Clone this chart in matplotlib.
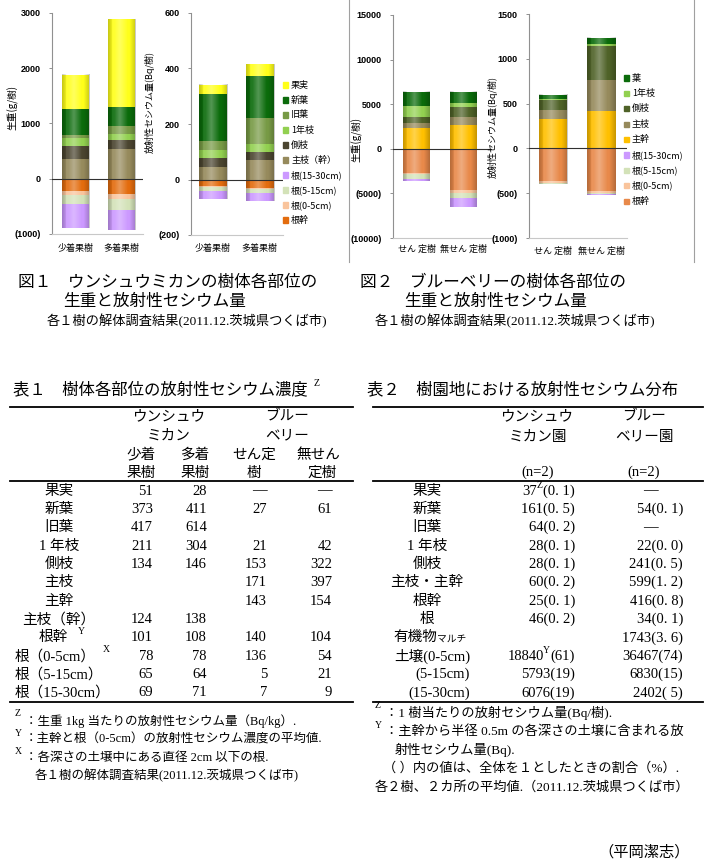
import numpy as np
import matplotlib
matplotlib.use('Agg')
import matplotlib.pyplot as plt
from matplotlib.patches import Rectangle
from matplotlib.lines import Line2D

W, H = 705, 864
JP = ['Noto Sans CJK JP', 'DejaVu Sans']
SERIF = ['Liberation Serif', 'Noto Sans CJK JP']
NUM = ['Liberation Sans', 'Noto Sans CJK JP']
plt.rcParams['font.family'] = JP

# --- 図1 ウンシュウミカン (2 trees) ---
mikan_trees = ['少着果樹', '多着果樹']
mikan_up_parts = ['主枝（幹）', '側枝', '1年枝', '旧葉', '新葉', '果実']
mikan_down_parts = ['根幹', '根(0-5cm)', '根(5-15cm)', '根(15-30cm)']
mikan_fw_up = [[361, 542], [223, 163], [150, 96], [66, 157], [470, 349], [608, 1578]]
mikan_fw_down = [[217, 283], [78, 84], [157, 193], [440, 373]]
mikan_cs_up = [[45, 72], [33, 27], [30, 30], [30, 94], [169, 150], [34, 43]]
mikan_cs_down = [[22, 30], [4, 5], [14, 14], [30, 27]]
mikan_up_colors = ['#968a5c', '#4b4530', '#92d050', '#779a45', '#0b6b0b', '#ffff1a']
mikan_down_colors = ['#e36c0e', '#f9c49c', '#d3e2b8', '#cc99ff']

# --- 図2 ブルーベリー (2 trees) ---
blue_trees = ['せん 定樹', '無せん 定樹']
blue_up_parts = ['主幹', '主枝', '側枝', '1年枝', '葉']
blue_down_parts = ['根幹', '根(0-5cm)', '根(5-15cm)', '根(15-30cm)']
blue_fw_up = [[2368, 2669], [526, 902], [677, 1128], [1241, 489], [1541, 1203]]
blue_fw_down = [[2707, 4662], [113, 263], [526, 602], [300, 1015]]
blue_cs_up = [[330, 412], [101, 356], [105, 378], [20, 24], [45, 67]]
blue_cs_down = [[363, 476], [22, 26], [7, 11], [4, 4]]
blue_up_colors = ['#ffc000', '#968a5c', '#4f6228', '#92d050', '#0b6b0b']
blue_down_colors = ['#e8894a', '#f9c49c', '#d3e2b8', '#cc99ff']

# --- 表1 ---
t1_parts = ['果実', '新葉', '旧葉', '1 年枝', '側枝', '主枝', '主幹', '主枝（幹）',
            '根幹', '根（0-5cm）', '根（5-15cm）', '根（15-30cm）']
t1_few = ['51', '373', '417', '211', '134', '', '', '124', '101', '78', '65', '69']
t1_many = ['28', '411', '614', '304', '146', '', '', '138', '108', '78', '64', '71']
t1_pruned = ['—', '27', '', '21', '153', '171', '143', '', '140', '136', '5', '7']
t1_unpruned = ['—', '61', '', '42', '322', '397', '154', '', '104', '54', '21', '9']

# --- 表2 ---
t2_parts = ['果実', '新葉', '旧葉', '1 年枝', '側枝', '主枝・主幹', '根幹', '根',
            '有機物', '土壌(0-5cm)', '(5-15cm)', '(15-30cm)']
t2_mikan = ['37', '161', '64', '28', '28', '60', '25', '46', '', '18840', '5793', '6076']
t2_mikan_pct = ['0. 1', '0. 5', '0. 2', '0. 1', '0. 1', '0. 2', '0. 1', '0. 2', '', '61', '19', '19']
t2_blue = ['—', '54', '—', '22', '241', '599', '416', '34', '1743', '36467', '6830', '2402']
t2_blue_pct = ['', '0. 1', '', '0. 0', '0. 5', '1. 2', '0. 8', '0. 1', '3. 6', '74', '15', ' 5']

fig = plt.figure(figsize=(W / 100, H / 100), dpi=100)


def fy(y):
    return 1 - y / H


def text(x, y, s, size=10.5, ha='left', family=SERIF, **kw):
    return fig.text(x / W, fy(y), s, fontsize=size, ha=ha, va='center', family=family, **kw)


def hline(x0, x1, y, lw=1.3, color='black'):
    fig.add_artist(Line2D([x0 / W, x1 / W], [fy(y), fy(y)], lw=lw, color=color))


def shade(ax, x, w, y0, y1):
    # soft cylinder look like the original bars
    t = np.linspace(-1, 1, 64)
    light = np.clip(1 - np.abs(t + 0.15) * 1.7, 0, 1)
    dark = np.clip((np.abs(t) - 0.55) / 0.45, 0, 1)
    rgba = np.zeros((1, 64, 4))
    rgba[0, :, :3] = (light > 0)[:, None] * 1.0
    rgba[0, :, 3] = 0.3 * light + 0.22 * dark
    ax.imshow(rgba, extent=[x - w / 2, x + w / 2, y0, y1], aspect='auto',
              interpolation='bilinear', zorder=2)


def bar_chart(box, ylim, yticks, up, down, up_colors, down_colors, trees, xlim, width, pad):
    l, t, r, b = box
    ax = fig.add_axes([l / W, fy(b), (r - l) / W, (b - t) / H])
    x = np.arange(len(trees))
    top = np.zeros(len(trees))
    for vals, c in zip(up, up_colors):
        ax.bar(x, vals, width, bottom=top, color=c, linewidth=0)
        top = top + np.array(vals)
    low = np.zeros(len(trees))
    for vals, c in zip(down, down_colors):
        ax.bar(x, -np.array(vals), width, bottom=-low, color=c, linewidth=0)
        low = low + np.array(vals)
    for xi, hi, lo in zip(x, top, low):
        shade(ax, xi, width, -lo, hi)
    ax.axhline(0, color='#303030', lw=0.8, zorder=3)
    ax.set_xlim(xlim)
    ax.set_ylim(ylim)
    ax.set_yticks(yticks)
    ax.set_yticklabels([f'({-v})' if v < 0 else str(v) for v in yticks],
                       fontsize=6.5, fontweight='bold', family=NUM)
    ax.set_xticks(x, trees, fontsize=6.5)
    ax.tick_params(axis='x', length=0, pad=pad)
    ax.tick_params(axis='y', length=2, width=0.6, color='#808080', pad=6)
    for s in ['top', 'right']:
        ax.spines[s].set_visible(False)
    ax.spines['left'].set_color('#909090')
    ax.spines['bottom'].set_color('#c8c8c8')
    ax.patch.set_alpha(0)
    return ax


def legend(x, y0, step, labels, colors):
    for i, (lab, c) in enumerate(zip(labels, colors)):
        y = y0 + i * step
        fig.add_artist(Rectangle((x / W, fy(y + 2.5)), 5 / W, 5 / H, color=c,
                                 transform=fig.transFigure))
        text(x + 8, y, lab, size=6.5, family=JP)


# charts
bar_chart((52, 13, 143, 234), (-1000, 3000), [-1000, 0, 1000, 2000, 3000],
          mikan_fw_up, mikan_fw_down, mikan_up_colors, mikan_down_colors,
          mikan_trees, (-0.51, 1.47), 0.59, 7.5)
bar_chart((191, 13, 283, 235), (-200, 600), [-200, 0, 200, 400, 600],
          mikan_cs_up, mikan_cs_down, mikan_up_colors, mikan_down_colors,
          mikan_trees, (-0.47, 1.5), 0.6, 6.5)
bar_chart((393, 15, 492, 238), (-10000, 15000), [-10000, -5000, 0, 5000, 10000, 15000],
          blue_fw_up, blue_fw_down, blue_up_colors, blue_down_colors,
          blue_trees, (-0.5, 1.6), 0.57, 4.5)
bar_chart((529, 14, 627, 238), (-1000, 1500), [-1000, -500, 0, 500, 1000, 1500],
          blue_cs_up, blue_cs_down, blue_up_colors, blue_down_colors,
          blue_trees, (-0.5, 1.53), 0.59, 6)

text(13, 108, '生重(g/樹)', size=7, ha='center', family=JP, rotation=90)
text(150, 102, '放射性セシウム量(Bq/樹)', size=6.5, ha='center', family=JP, rotation=90)
text(357, 140, '生重(g/樹)', size=7, ha='center', family=JP, rotation=90)
text(493, 127, '放射性セシウム量(Bq/樹)', size=6.5, ha='center', family=JP, rotation=90)

legend(283, 85, 15, mikan_up_parts[::-1] + mikan_down_parts[::-1],
       mikan_up_colors[::-1] + mikan_down_colors[::-1])
legend(624, 78, 15.4, blue_up_parts[::-1] + blue_down_parts[::-1],
       blue_up_colors[::-1] + blue_down_colors[::-1])

# picture frames
for xf in (349, 694):
    fig.add_artist(Line2D([xf / W, xf / W], [fy(0), fy(262)], lw=0.8, color='#a0a0a0'))

# captions
text(18, 283, '図１　ウンシュウミカンの樹体各部位の', size=12)
text(63, 302, '生重と放射性セシウム量', size=12)
text(47, 321, '各１樹の解体調査結果(2011.12.茨城県つくば市)', size=9.5)
text(360, 283, '図２　ブルーベリーの樹体各部位の', size=12)
text(404, 302, '生重と放射性セシウム量', size=12)
text(375, 321, '各１樹の解体調査結果(2011.12.茨城県つくば市)', size=9.5)

# ---------- 表1 ----------
text(13, 390, '表１　樹体各部位の放射性セシウム濃度', size=11.8)
text(314, 384, 'Z', size=7)
hline(10, 353, 407)
hline(10, 353, 481)
hline(10, 353, 702)
for s, x in [('ウンシュウ', 169), ('ブルー', 287)]:
    text(x, 417, s, ha='center')
for s, x in [('ミカン', 169), ('ベリー', 287)]:
    text(x, 436, s, ha='center')
for s, x in [('少着', 141), ('多着', 195), ('せん定', 254), ('無せん', 318)]:
    text(x, 455, s, ha='center')
for s, x in [('果樹', 141), ('果樹', 195), ('樹', 254), ('定樹', 322)]:
    text(x, 473, s, ha='center')

row_y = 491
for i, part in enumerate(t1_parts):
    y = row_y + i * 18.35
    if part.startswith('根（'):
        text(15, y, part)
    elif part == '根幹':
        text(53, y, part, ha='center')
    else:
        text(59, y, part, ha='center')
    for vals, x in [(t1_few, 153), (t1_many, 207), (t1_pruned, 267), (t1_unpruned, 332)]:
        text(x, y, vals[i], ha='right')
text(78, 632, 'Y', size=7)
text(103, 650, 'X', size=7)

for s, y in [('Z', 714), ('Y', 733), ('X', 751)]:
    text(15, y, s, size=7)
text(25, 721, '：生重 1kg 当たりの放射性セシウム量（Bq/kg）.', size=9)
text(25, 740, '：主幹と根（0-5cm）の放射性セシウム濃度の平均値.', size=9)
text(25, 758, '：各深さの土壌中にある直径 2cm 以下の根.', size=9)
text(35, 776, '各１樹の解体調査結果(2011.12.茨城県つくば市)', size=9)

# ---------- 表2 ----------
text(367, 390, '表２　樹園地における放射性セシウム分布', size=11.8)
hline(373, 703, 407)
hline(373, 703, 481)
hline(373, 703, 702)
text(537, 417, 'ウンシュウ', ha='center')
text(644, 417, 'ブルー', ha='center')
text(538, 437, 'ミカン園', ha='center')
text(644, 437, 'ベリー園', ha='center')
text(538, 472, '(n=2)', ha='center')
text(644, 472, '(n=2)', ha='center')

renderer = fig.canvas.get_renderer()
for i, part in enumerate(t2_parts):
    y = row_y + i * 18.35
    if part.startswith('(') or part.startswith('土壌'):
        text(470, y, part, ha='right')
    elif part == '有機物':
        text(393, y, part)
        text(437, y + 1, 'マルチ', size=7)
    else:
        text(427, y, part, ha='center')
    # ウンシュウミカン園
    if t2_mikan[i]:
        sup = {0: 'Z', 9: 'Y'}.get(i)
        if sup:
            p = text(575, y, f'({t2_mikan_pct[i]})', ha='right')
            x0 = p.get_window_extent(renderer).x0
            text(x0 - 0.5, y - 6, sup, size=7, ha='right')
            text(x0 - 6.5, y, t2_mikan[i], ha='right')
        else:
            text(575, y, f'{t2_mikan[i]}({t2_mikan_pct[i]})', ha='right')
    # ブルーベリー園
    if t2_blue[i] == '—':
        text(650, y, '—', ha='center')
    else:
        text(683, y, f'{t2_blue[i]}({t2_blue_pct[i]})', ha='right')

text(375, 705, 'Z', size=7)
text(385, 713, '：1 樹当たりの放射セシウム量(Bq/樹).', size=9.5)
text(375, 725, 'Y', size=7)
text(385, 732, '：主幹から半径 0.5m の各深さの土壌に含まれる放', size=9.5)
text(395, 750, '射性セシウム量(Bq).', size=9.5)
text(383, 768, '（ ）内の値は、全体を１としたときの割合（%）.', size=9.5)
text(375, 787, '各２樹、２カ所の平均値.（2011.12.茨城県つくば市）', size=9.5)

text(690, 852, '（平岡潔志）', size=11, ha='right')

fig.savefig('out.png', dpi=100)
